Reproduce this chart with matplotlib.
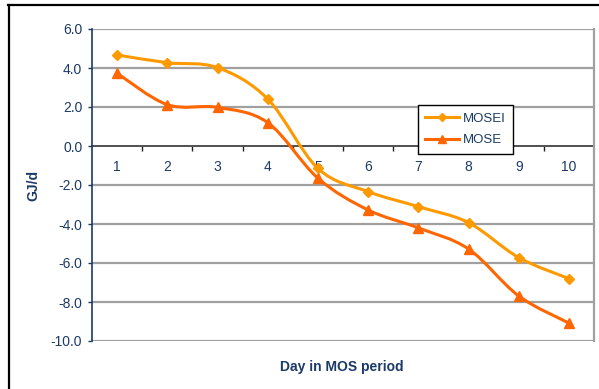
import numpy as np
import matplotlib
matplotlib.use("Agg")
import matplotlib.pyplot as plt
from matplotlib.lines import Line2D
from matplotlib.path import Path
from matplotlib.patches import PathPatch

plt.rcParams['font.family'] = ['Liberation Sans', 'DejaVu Sans']

days = [1, 2, 3, 4, 5, 6, 7, 8, 9, 10]
mosei = [4.67, 4.27, 4.02, 2.41, -1.15, -2.34, -3.11, -3.93, -5.72, -6.80]
mose = [3.73, 2.12, 1.98, 1.20, -1.65, -3.28, -4.20, -5.28, -7.69, -9.08]
y_ticks = [6.0, 4.0, 2.0, 0.0, -2.0, -4.0, -6.0, -8.0, -10.0]

navy = '#1B3A66'
grid_gray = '#A0A0A0'
fs = 10


def smooth_path(xs, ys):
    """Cubic Bezier path through the points (Catmull-Rom style, tension 1/6)."""
    pts = np.column_stack([xs, ys]).astype(float)
    n = len(pts)
    verts = [pts[0]]
    codes = [Path.MOVETO]
    for i in range(n - 1):
        p0 = pts[i - 1] if i > 0 else pts[i]
        p1 = pts[i]
        p2 = pts[i + 1]
        p3 = pts[i + 2] if i + 2 < n else pts[i + 1]
        c1 = p1 + (p2 - p0) / 6.0
        c2 = p2 - (p3 - p1) / 6.0
        verts += [c1, c2, p2]
        codes += [Path.CURVE4] * 3
    return Path(verts, codes)


fig = plt.figure(figsize=(5.99, 3.89), dpi=100)
ax = fig.add_axes([92 / 599, 48 / 389, 502 / 599, 312 / 389])

ax.set_xlim(0.5, 10.5)
ax.set_ylim(-10, 6)

for y in y_ticks:
    if y != 0:
        ax.axhline(y, color=grid_gray, lw=1.6, zorder=1)

series = [(mosei, '#FF9900', 'D', 5.5, 'MOSEI'), (mose, '#FF6600', '^', 7, 'MOSE')]
handles = []
for vals, col, mk, ms, name in series:
    ax.add_patch(PathPatch(smooth_path(days, vals), facecolor='none',
                           edgecolor=col, lw=2.2, zorder=3))
    ax.plot(days, vals, linestyle='none', marker=mk, ms=ms, color=col, zorder=4)
    handles.append(Line2D([], [], color=col, lw=2.2, marker=mk, ms=ms - 1, label=name))

# spines
ax.spines['top'].set_visible(False)
ax.spines['right'].set_color(grid_gray)
ax.spines['right'].set_linewidth(1.6)
ax.spines['left'].set_color(navy)
ax.spines['left'].set_linewidth(1.2)
ax.spines['bottom'].set_position(('data', 0))
ax.spines['bottom'].set_color('#505050')
ax.spines['bottom'].set_linewidth(1.4)
ax.spines['bottom'].set_zorder(2)

ax.set_yticks(y_ticks)
ax.set_yticklabels([f'{v:.1f}' for v in y_ticks])
ax.tick_params(axis='y', colors=navy, labelsize=fs, length=3, width=1, pad=4)

ax.set_xticks(days)
ax.set_xticklabels([str(d) for d in days])
ax.set_xticks(np.arange(1.5, 10.5, 1.0), minor=True)
ax.tick_params(axis='x', which='major', length=0, pad=10, labelsize=fs, labelcolor=navy)
ax.tick_params(axis='x', which='minor', length=3.5, width=1, color='#202020', direction='out')

leg = ax.legend(handles=handles, loc='upper left', bbox_to_anchor=(0.649, 0.755),
                frameon=True, fancybox=False, framealpha=1.0, fontsize=9.5,
                handlelength=2.6, borderpad=0.55, labelspacing=0.7,
                handletextpad=0.3, borderaxespad=0)
leg.get_frame().set_edgecolor('black')
leg.get_frame().set_linewidth(1.0)
leg.set_zorder(10)
for t in leg.get_texts():
    t.set_color(navy)

fig.text(33 / 599, 1 - 185 / 389, 'GJ/d', rotation=90, ha='center', va='center',
         fontsize=fs, fontweight='bold', color=navy)
fig.text(342 / 599, 1 - 367 / 389, 'Day in MOS period', ha='center', va='center',
         fontsize=fs, fontweight='bold', color=navy)

# outer frame (left and top edges)
fig.add_artist(Line2D([8.5 / 599, 8.5 / 599], [0, 1 - 5 / 389], transform=fig.transFigure,
                      color='black', lw=1.6))
fig.add_artist(Line2D([8 / 599, 1], [1 - 5 / 389, 1 - 5 / 389], transform=fig.transFigure,
                      color='black', lw=1.6))

fig.savefig('out.png', dpi=100)
